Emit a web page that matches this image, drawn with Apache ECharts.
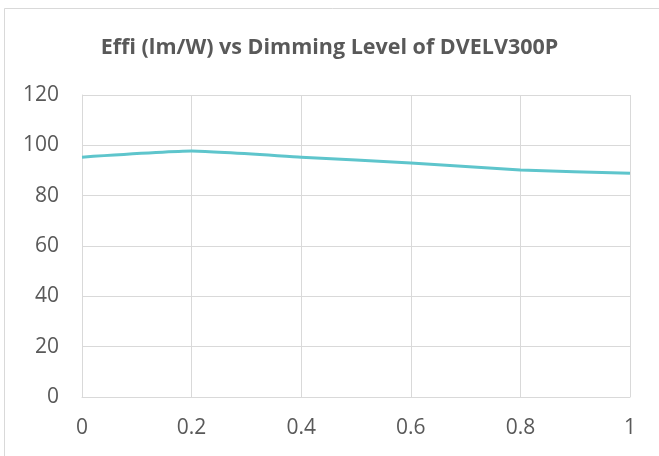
<!DOCTYPE html>
<html>
<head>
<meta charset="utf-8">
<script src="https://cdn.jsdelivr.net/npm/echarts@6/dist/echarts.min.js"></script>
<style>
html,body{margin:0;padding:0;background:#fff;}
#c{width:659px;height:456px;}
</style>
</head>
<body>
<div id="c"></div>
<script>
var titleText = "Effi (lm/W) vs Dimming Level of DVELV300P";
var dimmingLevels = [0, 0.2, 0.4, 0.6, 0.8, 1];
var efficacy = [95.3, 97.7, 95.3, 93.0, 90.2, 88.9];
var yTicks = [0, 20, 40, 60, 80, 100, 120];

var chart = echarts.init(document.getElementById('c'));
var data = dimmingLevels.map(function (x, i) { return [x, efficacy[i]]; });
chart.setOption({
  animation: false,
  backgroundColor: '#fff',
  graphic: [{
    type: 'rect',
    shape: { x: 4.5, y: 8.5, width: 700, height: 500 },
    style: { fill: 'none', stroke: '#d9d9d9', lineWidth: 1 },
    silent: true
  }],
  title: {
    text: titleText,
    left: 'center',
    top: 32,
    textStyle: { fontFamily: 'Open Sans', fontWeight: 'bold', fontSize: 21.5, color: '#595959' }
  },
  grid: { left: 82, right: 29, top: 95, bottom: 59 },
  xAxis: {
    type: 'value', min: 0, max: 1, interval: 0.2,
    axisLine: { show: true, lineStyle: { color: '#d9d9d9' } },
    axisTick: { show: false },
    splitLine: { show: true, lineStyle: { color: '#d9d9d9', width: 1 } },
    axisLabel: { color: '#595959', fontFamily: 'Open Sans', fontSize: 21, margin: 21,
      formatter: function (v) { return String(Math.round(v * 10) / 10); } }
  },
  yAxis: {
    type: 'value', min: yTicks[0], max: yTicks[yTicks.length - 1], interval: 20,
    axisLine: { show: true, lineStyle: { color: '#d9d9d9' } },
    axisTick: { show: false },
    splitLine: { show: true, lineStyle: { color: '#d9d9d9', width: 1 } },
    axisLabel: { color: '#595959', fontFamily: 'Open Sans', fontSize: 21, margin: 23 }
  },
  series: [{
    type: 'line',
    data: data,
    smooth: 0.15,
    symbol: 'none',
    lineStyle: { color: '#5ec5cc', width: 3 }
  }]
});
</script>
</body>
</html>
